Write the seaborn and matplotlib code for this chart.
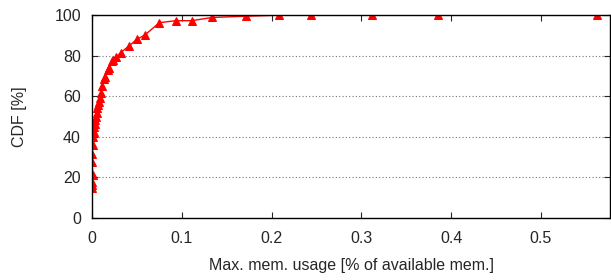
import numpy as np
import pandas as pd
import matplotlib
matplotlib.use("Agg")
import matplotlib.pyplot as plt
import seaborn as sns

# CDF of max memory usage
mem_usage = [0.0, 0.0, 0.0, 0.001, 0.0, 0.0, 0.001, 0.001, 0.002, 0.002, 0.003,
             0.003, 0.004, 0.005, 0.006, 0.0067, 0.0074, 0.0085, 0.010, 0.011,
             0.013, 0.014, 0.018, 0.019, 0.022, 0.023, 0.027, 0.032, 0.041,
             0.050, 0.059, 0.075, 0.093, 0.111, 0.134, 0.171, 0.208, 0.244,
             0.312, 0.385, 0.563]
cdf_pct = [14.6, 16.3, 17.9, 21.2, 27.7, 31.5, 36.0, 40.0, 42.5, 44.7, 46.3,
           48.3, 49.9, 51.9, 54.0, 55.7, 57.3, 59.0, 61.7, 65.0, 68.3, 69.7,
           73.0, 73.8, 77.1, 77.9, 79.2, 81.5, 84.7, 88.0, 90.2, 96.2, 97.2,
           97.2, 98.8, 99.4, 99.9, 100.0, 100.0, 100.0, 100.0]
x_ticks = [0, 0.1, 0.2, 0.3, 0.4, 0.5]
y_ticks = [0, 20, 40, 60, 80, 100]

df = pd.DataFrame({"mem": mem_usage, "cdf": cdf_pct})

sns.set_style("ticks")
plt.rcParams["font.family"] = ["Liberation Sans", "DejaVu Sans"]

fig = plt.figure(figsize=(6.11, 2.8), dpi=100)
ax = fig.add_axes([0.1506, 0.2214, 0.8478, 0.7250])

sns.lineplot(data=df, x="mem", y="cdf", ax=ax, color="red", linewidth=1.0,
             marker="^", markersize=5.5, markeredgecolor="red", sort=False,
             estimator=None)

ax.set_xlim(0, 0.577)
ax.set_ylim(0, 100)
ax.set_xticks(x_ticks)
ax.set_xticklabels(["0", "0.1", "0.2", "0.3", "0.4", "0.5"])
ax.set_yticks(y_ticks)
ax.yaxis.grid(True, linestyle=(0, (1, 2)), color="#777777", linewidth=0.8)
ax.tick_params(direction="in", top=True, right=True, labelsize=11.5, length=4,
               width=0.8)
ax.tick_params(axis="x", pad=9)
ax.tick_params(axis="y", pad=8)
for sp in ax.spines.values():
    sp.set_linewidth(1.0)
    sp.set_color("black")

ax.set_xlabel("Max. mem. usage [% of available mem.]", fontsize=11.5, labelpad=9)
ax.set_ylabel("CDF [%]", fontsize=11.5, labelpad=20)

fig.savefig("out.png", dpi=100)
